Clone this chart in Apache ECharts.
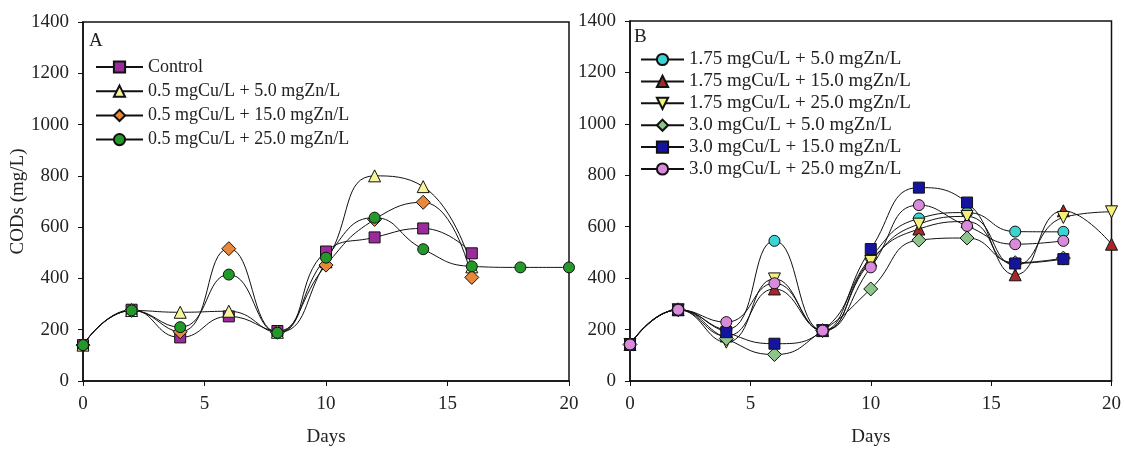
<!DOCTYPE html>
<html>
<head>
<meta charset="utf-8">
<script src="https://cdn.jsdelivr.net/npm/echarts@6/dist/echarts.min.js"></script>
<style>
html,body{margin:0;padding:0;background:#fff;}
#chart{width:1124px;height:452px;}
</style>
</head>
<body>
<div id="chart"></div>
<script>
// ---- data ----
const daysA = [0, 2, 4, 6, 8, 10, 12, 14, 16, 18, 20];
const daysB = [0, 2, 4, 6, 8, 10, 12, 14, 16, 18, 20];

const namesA = ['Control', '0.5 mgCu/L + 5.0 mgZn/L', '0.5 mgCu/L + 15.0 mgZn/L', '0.5 mgCu/L + 25.0 mgZn/L'];
const controlA   = [140, 278, 170, 252, 195, 505, 560, 595, 498];
const cu05zn5A   = [140, 275, 268, 272, 190, 465, 800, 758, 445];
const cu05zn15A  = [140, 275, 192, 516, 190, 452, 630, 697, 404];
const cu05zn25A  = [140, 275, 210, 415, 188, 481, 637, 514, 447, 443, 443];

const namesB = ['1.75 mgCu/L + 5.0 mgZn/L', '1.75 mgCu/L + 15.0 mgZn/L', '1.75 mgCu/L + 25.0 mgZn/L',
                '3.0 mgCu/L + 5.0 mgZn/L', '3.0 mgCu/L + 15.0 mgZn/L', '3.0 mgCu/L + 25.0 mgZn/L'];
const cu175zn5B  = [142, 277, 200, 545, 196, 480, 632, 655, 581, 580];
const cu175zn15B = [142, 277, 175, 358, 196, 470, 591, 620, 413, 662, 532];
const cu175zn25B = [142, 277, 151, 397, 196, 465, 610, 640, 450, 636, 658];
const cu30zn5B   = [142, 277, 165, 103, 196, 358, 548, 556, 460, 478];
const cu30zn15B  = [142, 277, 190, 145, 196, 513, 752, 694, 457, 474];
const cu30zn25B  = [142, 277, 229, 380, 196, 442, 684, 603, 532, 545];

const yTicks = [0, 200, 400, 600, 800, 1000, 1200, 1400];
const xTicks = [0, 5, 10, 15, 20];

// ---- styling ----
const FONT = '"Liberation Serif", "Times New Roman", serif';
const TXT = '#222';
const downTri = 'path://M0,0 L10,0 L5,9 Z';

function pairs(days, vals) { return vals.map((v, i) => [days[i], v]); }

function mk(name, days, vals, color, symbol, size, gi) {
  return {
    name: name, type: 'line', xAxisIndex: gi, yAxisIndex: gi,
    data: pairs(days, vals),
    smooth: 0.5,
    symbol: symbol, symbolSize: size,
    lineStyle: { color: '#111', width: 1 },
    itemStyle: { color: color, borderColor: '#111', borderWidth: 1 },
    emphasis: { disabled: true },
    animation: false
  };
}

function xAx(gi) {
  return {
    type: 'value', gridIndex: gi, min: 0, max: 20, interval: 5,
    name: 'Days', nameLocation: 'middle', nameGap: 47,
    nameTextStyle: { fontFamily: FONT, fontSize: 19, color: TXT },
    axisLine: { show: true, lineStyle: { color: '#111', width: 1.5 } },
    axisTick: { show: true, inside: false, length: 5, lineStyle: { color: '#111' } },
    axisLabel: { fontFamily: FONT, fontSize: 19, color: TXT, margin: 14,
                 formatter: v => xTicks.includes(v) ? String(v) : '' },
    splitLine: { show: false }
  };
}
function yAx(gi, withName) {
  return {
    type: 'value', gridIndex: gi, min: 0, max: 1400, interval: 200,
    name: withName ? 'CODs (mg/L)' : '', nameLocation: 'middle', nameGap: 46, nameRotate: 90,
    nameTextStyle: { fontFamily: FONT, fontSize: 19, color: TXT },
    axisLine: { show: true, lineStyle: { color: '#111', width: 1.5 } },
    axisTick: { show: true, inside: false, length: 5, lineStyle: { color: '#111' } },
    axisLabel: { fontFamily: FONT, fontSize: 19, color: TXT, margin: 14,
                 formatter: v => yTicks.includes(v) ? String(v) : '' },
    splitLine: { show: false }
  };
}

const chart = echarts.init(document.getElementById('chart'), null, { renderer: 'canvas' });
chart.setOption({
  backgroundColor: '#fff',
  animation: false,
  title: [
    { text: 'A', left: 84, top: 27, textStyle: { fontFamily: FONT, fontSize: 19, fontWeight: 'normal', color: TXT } },
    { text: 'B', left: 629, top: 23, textStyle: { fontFamily: FONT, fontSize: 19, fontWeight: 'normal', color: TXT } }
  ],
  grid: [
    { left: 83, top: 22, width: 486, height: 360, show: true, borderColor: '#111', borderWidth: 1.5, backgroundColor: 'transparent' },
    { left: 630, top: 21, width: 486, height: 360, show: true, borderColor: '#111', borderWidth: 1.5, backgroundColor: 'transparent' }
  ],
  xAxis: [xAx(0), xAx(1)],
  yAxis: [yAx(0, true), yAx(1, false)],
  legend: [
    { data: namesA, orient: 'vertical', left: 90, top: 53, itemWidth: 47, itemHeight: 14, itemGap: 6.2,
      textStyle: { fontFamily: FONT, fontSize: 18, color: TXT }, selectedMode: false },
    { data: namesB, orient: 'vertical', left: 635, top: 45, itemWidth: 43, itemHeight: 14, itemGap: 2.9,
      textStyle: { fontFamily: FONT, fontSize: 19, color: TXT }, selectedMode: false }
  ],
  series: [
    mk(namesA[0], daysA, controlA,  '#9B2A9B', 'rect', 11, 0),
    mk(namesA[1], daysA, cu05zn5A,  '#F6F59A', 'triangle', 12, 0),
    mk(namesA[2], daysA, cu05zn15A, '#E8883A', 'diamond', 14, 0),
    mk(namesA[3], daysA, cu05zn25A, '#23992A', 'circle', 11, 0),
    mk(namesB[0], daysB, cu175zn5B,  '#3ED3D3', 'circle', 11, 1),
    mk(namesB[1], daysB, cu175zn15B, '#A52828', 'triangle', 12, 1),
    mk(namesB[2], daysB, cu175zn25B, '#F4F07A', downTri, 12, 1),
    mk(namesB[3], daysB, cu30zn5B,   '#8CC48C', 'diamond', 14, 1),
    mk(namesB[4], daysB, cu30zn15B,  '#1414A0', 'rect', 11, 1),
    mk(namesB[5], daysB, cu30zn25B,  '#DA8ADA', 'circle', 11, 1)
  ]
});
</script>
</body>
</html>
